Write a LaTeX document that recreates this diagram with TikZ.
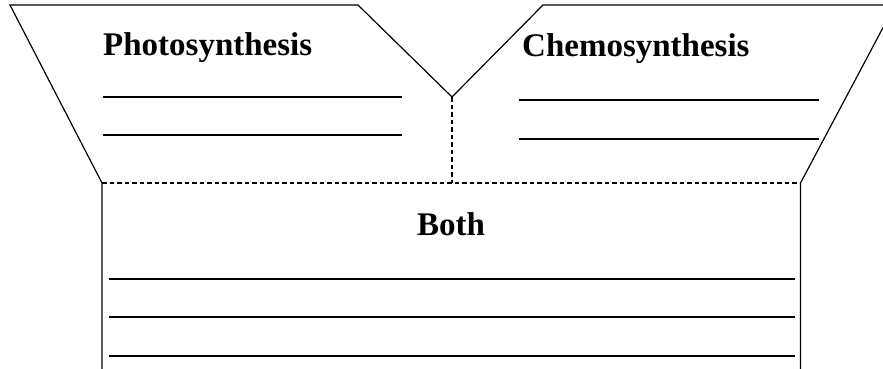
\documentclass[tikz,border=0pt]{standalone}
\usepackage{fontspec}
\setmainfont{Liberation Serif}
\begin{document}
\begin{tikzpicture}[x=1pt,y=-1pt,
  outline/.style={draw=black,line width=1.2pt,line join=miter},
  fold/.style={draw=black,line width=1.2pt,dash pattern=on 4.5pt off 3pt},
  blank/.style={draw=black,line width=2.8pt},
  title/.style={inner sep=0pt,font=\fontsize{33}{36}\selectfont\bfseries}]
\useasboundingbox (0,0) rectangle (883,368);
\clip (0,0) rectangle (883,368);
% corners
\coordinate (bl) at (102,370);
\coordinate (lfold) at (102,183);
\coordinate (ltop) at (10,5);
\coordinate (ltopr) at (358,5);
\coordinate (v) at (452,97);
\coordinate (vb) at (452,183);
\coordinate (rtopl) at (543,5);
\coordinate (rtop) at (895,5);
\coordinate (rfold) at (800.5,183);
\coordinate (br) at (800.5,370);
\draw[outline] (bl) -- (lfold) -- (ltop) -- (ltopr) -- (v) -- (rtopl) -- (rtop) -- (rfold) -- (br);
\draw[fold] (lfold) -- (rfold);
\draw[fold] (v) -- (vb);
% titles
\node[title,anchor=base west] (photo) at (103,55) {Photosynthesis};
\node[title,anchor=base west] (chemo) at (522,56) {Chemosynthesis};
\node[title,anchor=base] (both) at (451,235) {Both};
% answer lines
\coordinate (p1a) at (103,97); \coordinate (p1b) at (402,97);
\coordinate (p2a) at (103,135); \coordinate (p2b) at (402,135);
\coordinate (c1a) at (519,100); \coordinate (c1b) at (819,100);
\coordinate (c2a) at (519,139); \coordinate (c2b) at (819,139);
\coordinate (b1a) at (109,279); \coordinate (b1b) at (795,279);
\coordinate (b2a) at (109,317); \coordinate (b2b) at (795,317);
\coordinate (b3a) at (109,356); \coordinate (b3b) at (795,356);
\draw[blank] (p1a) -- (p1b);
\draw[blank] (p2a) -- (p2b);
\draw[blank] (c1a) -- (c1b);
\draw[blank] (c2a) -- (c2b);
\draw[blank] (b1a) -- (b1b);
\draw[blank] (b2a) -- (b2b);
\draw[blank] (b3a) -- (b3b);
\end{tikzpicture}
\end{document}
